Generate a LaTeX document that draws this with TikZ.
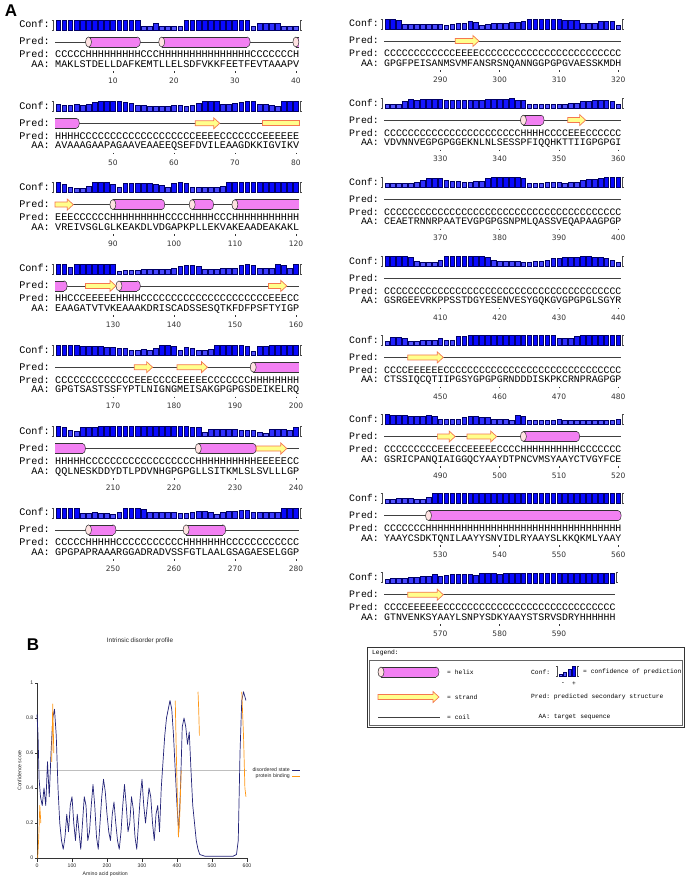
\documentclass[tikz,border=0pt]{standalone}
\usepackage{fontspec}
\setmainfont{Liberation Sans}
\setmonofont{Liberation Mono}
\newfontfamily\numfont{DejaVu Sans}
\usetikzlibrary{positioning}

\definecolor{helixpink}{RGB}{242,128,242}
\definecolor{helixcap}{RGB}{255,226,226}
\definecolor{strandfill}{RGB}{255,255,140}
\definecolor{strandedge}{RGB}{245,120,80}
\definecolor{confblue}{RGB}{0,0,255}
\definecolor{disnavy}{RGB}{35,35,120}
\definecolor{bindorange}{RGB}{255,150,20}

\tikzset{
  seqtxt/.style={anchor=base west, inner sep=0pt, font=\fontsize{\fs pt}{\fs pt}\selectfont\ttfamily},
  seqlab/.style={anchor=base east, inner sep=0pt, font=\fontsize{\fs pt}{\fs pt}\selectfont\ttfamily},
  numlab/.style={inner sep=0pt, font=\fontsize{7.5}{8}\selectfont\numfont, text=black!80},
  confbar/.style={draw=blue!40!black, line width=0.35pt},
  bracket/.style={draw=black!70, line width=0.5pt},
  tickmark/.style={draw=black!80, line width=0.8pt},
  coil/.style={draw=black!75, line width=0.6pt},
  helixbody/.style={fill=helixpink},
  helixline/.style={draw=black!80, line width=0.5pt},
  helixend/.style={fill=helixpink, draw=black!80, line width=0.5pt},
  helixtop/.style={fill=helixcap, draw=black!80, line width=0.5pt},
  strand/.style={fill=strandfill, draw=strandedge, line width=0.7pt},
  panel/.style={inner sep=0pt, font=\fontsize{17}{17}\selectfont\bfseries},
  legtxt/.style={inner sep=0pt, anchor=west, font=\fontsize{6.3}{7}\selectfont\ttfamily},
  plottxt/.style={inner sep=0pt, font=\fontsize{5.2}{6}\selectfont, text=black!85},
  disorder/.style={draw=disnavy, line width=0.7pt, line join=round},
  binding/.style={draw=bindorange, line width=0.7pt, line join=round}
}

% confidence bars, one per digit
\newcount\confi
\newcommand\confbar[1]{%
  \global\advance\confi by 1
  \pgfmathsetmacro\cbx{\bx+(\the\confi-1)*\cw}%
  \pgfmathtruncatemacro\cbs{52+5*#1}%
  \filldraw[confbar, fill=confblue!\cbs!white] (\cbx+0.7,\by+5) rectangle (\cbx+\cw-0.7,\by+4-#1);%
}
\def\confloop#1{\ifx#1\relax\else\confbar{#1}\expandafter\confloop\fi}

% one block of 40 residues: id, x0, y, char width, offset, conf, pred, aa
\newcommand{\psiblock}[8]{%
  \def\bx{#2}\def\by{#3}\def\cw{#4}%
  \pgfmathsetmacro\fs{#4/0.6}%
  \pgfmathsetmacro\py{#3+17}%
  \global\confi=0 \confloop#6\relax
  \edef\nres{\the\confi}%
  \pgfmathsetmacro\blkend{#2+\nres*#4}%
  \node[seqlab] (conf#1) at (#2-5,#3+3) {Conf:};
  \draw[bracket] (#2-3.5,#3-5) -- (#2-2,#3-5) -- (#2-2,#3+5) -- (#2-3.5,#3+5) (#2-2,#3) -- (#2-1,#3);
  \draw[bracket] (\blkend+2.5,#3-5) -- (\blkend+1,#3-5) -- (\blkend+1,#3+5) -- (\blkend+2.5,#3+5);
  \node[seqlab] (predlab#1) at (#2-5,\py+3) {Pred:};
  \draw[coil] (#2,\py) -- (\blkend,\py);
  \node[seqlab] (ptxtlab#1) at (#2-5,#3+33) {Pred:};
  \node[seqtxt] (ptxt#1) at (#2,#3+33) {#7};
  \node[seqlab] (aalab#1) at (#2-5,#3+42.5) {AA:};
  \node[seqtxt] (aa#1) at (#2,#3+42.5) {#8};
  \foreach \j in {10,20,30,40}{%
    \ifnum\j>\nres\relax\else
      \pgfmathtruncatemacro\numval{#5+\j}%
      \draw[tickmark] (#2+\j*#4-#4/2,#3+46.5) -- ++(0,1.5);
      \node[numlab] (num#1-\j) at (#2+\j*#4-#4/2,#3+56) {\numval};
    \fi}%
}

% helix from residue a to b, left cap, rounded right end
\newcommand{\hlx}[4]{%
  \pgfmathsetmacro\hxa{\bx+(#1-1)*\cw}%
  \pgfmathsetmacro\hxb{\bx+#2*\cw}%
  \pgfmathsetmacro\hxl{\hxa+#3*3}%
  \pgfmathsetmacro\hxr{\hxb-#4*3}%
  \ifnum#4=1 \filldraw[helixend] (\hxr,\py) ellipse [x radius=3, y radius=5]; \fi
  \fill[helixbody] (\hxl,\py-5) rectangle (\hxr,\py+5);
  \draw[helixline] (\hxl,\py-5) -- (\hxr,\py-5) (\hxl,\py+5) -- (\hxr,\py+5);
  \ifnum#3=1 \filldraw[helixtop] (\hxl,\py) ellipse [x radius=3, y radius=5]; \fi
}
% strand from residue a to b, with or without head
\newcommand{\strd}[3]{%
  \pgfmathsetmacro\sta{\bx+(#1-1)*\cw}%
  \pgfmathsetmacro\stb{\bx+#2*\cw}%
  \ifnum#3=1
    \filldraw[strand] (\sta,\py-2.5) -- (\stb-6,\py-2.5) -- (\stb-6,\py-5.5) -- (\stb,\py) -- (\stb-6,\py+5.5) -- (\stb-6,\py+2.5) -- (\sta,\py+2.5) -- cycle;
  \else
    \filldraw[strand] (\sta,\py-2.5) rectangle (\stb,\py+2.5);
  \fi
}

\begin{document}
\begin{tikzpicture}[x=1pt, y=-1pt]
  \useasboundingbox (0,0) rectangle (685,877);
  \node[panel] (panelA) at (11,11) {A};

  % left column
  \psiblock{1}{55}{25}{6.1}{0}{9999999999999933633339999999999936666333}{CCCCCHHHHHHHHHCCCHHHHHHHHHHHHHHHCCCCCCCH}{MAKLSTDELLDAFKEMTLLELSDFVKKFEETFEVTAAAPV}
  \hlx{6}{14}{1}{1} \hlx{18}{32}{1}{1} \hlx{40}{40}{1}{0}
  \psiblock{2}{55}{106.3}{6.1}{40}{6556568999987554444554579996678996654999}{HHHHCCCCCCCCCCCCCCCCCCCEEEECCCCCCCEEEEEE}{AVAAAGAAPAGAAVEAAEEQSEFDVILEAAGDKKIGVIKV}
  \hlx{1}{4}{0}{1} \strd{24}{27}{1} \strd{35}{40}{0}
  \psiblock{3}{55}{187.6}{6.1}{80}{9743359997488888764898444445999999999999}{EEECCCCCCHHHHHHHHHCCCCHHHHCCCHHHHHHHHHHH}{VREIVSGLGLKEAKDLVDGAPKPLLEKVAKEAADEAKAKL}
  \strd{1}{3}{1} \hlx{10}{18}{1}{1} \hlx{23}{26}{1}{1} \hlx{30}{40}{1}{0}
  \psiblock{4}{55}{268.9}{6.1}{120}{9969999999233344444578874445558985559859}{HHCCCEEEEEHHHHCCCCCCCCCCCCCCCCCCCCCEEECC}{EAAGATVTVKEAAAKDRISCADSSESQTKFDFPSFTYIGP}
  \hlx{1}{2}{0}{1} \strd{6}{10}{1} \hlx{11}{14}{1}{1} \strd{36}{38}{1}
  \psiblock{5}{55}{350.2}{6.1}{160}{9999888877664454699847644599999838899999}{CCCCCCCCCCCCCEEECCCCEEEEECCCCCCCHHHHHHHH}{GPGTSASTSSFYPTLNIGNGMEISAKGPGPGSDEIKELRQ}
  \strd{14}{16}{1} \strd{21}{25}{1} \hlx{33}{40}{1}{0}
  \psiblock{6}{55}{431.5}{6.1}{200}{9854888999999999999999883666665553266658}{HHHHHCCCCCCCCCCCCCCCCCCHHHHHHHHHHEEEEECC}{QQLNESKDDYDTLPDVNHGPGPGLLSITKMLSLSVLLLGP}
  \hlx{1}{5}{0}{1} \hlx{24}{33}{1}{1} \strd{34}{38}{1}
  \psiblock{7}{55}{512.8}{6.1}{240}{9999445443599985555544566535667755555999}{CCCCCHHHHHCCCCCCCCCCCHHHHHHHCCCCCCCCCCCC}{GPGPAPRAAARGGADRADVSSFGTLAALGSAGAESELGGP}
  \hlx{6}{10}{1}{1} \hlx{22}{28}{1}{1}

  % right column
  \psiblock{8}{384}{24}{5.93}{280}{9984444444345576345556679999998885557773}{CCCCCCCCCCCCEEEECCCCCCCCCCCCCCCCCCCCCCCC}{GPGFPEISANMSVMFANSRSNQANNGGPGPGVAESSKMDH}
  \strd{13}{16}{1}
  \psiblock{9}{384}{103.1}{5.93}{320}{3336878888777777788889773333333446677763}{CCCCCCCCCCCCCCCCCCCCCCCHHHHCCCCEEECCCCCC}{VDVNNVEGPGPGGEKNLNLSESSPFIQQHKTTIIGPGPGI}
  \hlx{24}{27}{1}{1} \strd{32}{34}{1}
  \psiblock{10}{384}{182.2}{5.93}{360}{3333346888655445589999983334443446778999}{CCCCCCCCCCCCCCCCCCCCCCCCCCCCCCCCCCCCCCCC}{CEAETRNNRPAATEVGPGPGSNPMLQASSVEQAPAAGPGP}
  \psiblock{11}{384}{261.3}{5.93}{400}{9999843335999999985444433445778889988753}{CCCCCCCCCCCCCCCCCCCCCCCCCCCCCCCCCCCCCCCC}{GSRGEEVRKPPSSTDGYESENVESYGQKGVGPGPGLSGYR}
  \psiblock{12}{384}{340.4}{5.93}{440}{3776334446448899999999999999966689999999}{CCCCEEEEEECCCCCCCCCCCCCCCCCCCCCCCCCCCCCC}{CTSSIQCQTIIPGSYGPGPGRNDDDISKPKCRNPRAGPGP}
  \strd{5}{10}{1}
  \psiblock{13}{384}{419.5}{5.93}{480}{9888777874444677664443873333343333333334}{CCCCCCCCCEEECCEEEEECCCCHHHHHHHHHHCCCCCCC}{GSRICPANQIAIGGQCYAAYDTPNCVMSYAAYCTVGYFCE}
  \strd{10}{12}{1} \strd{15}{19}{1} \hlx{24}{33}{1}{1}
  \psiblock{14}{384}{498.6}{5.93}{520}{3344433599999999999999999999999999999999}{CCCCCCCHHHHHHHHHHHHHHHHHHHHHHHHHHHHHHHHH}{YAAYCSDKTQNILAAYYSNVIDLRYAAYSLKKQKMLYAAY}
  \hlx{8}{40}{1}{1}
  \psiblock{15}{384}{577.7}{5.93}{560}{344455668678888799989999999999999999999}{CCCCEEEEEECCCCCCCCCCCCCCCCCCCCCCCCCCCCC}{GTNVENKSYAAYLSNPYSDKYAAYSTSRVSDRYHHHHHH}
  \strd{5}{10}{1}

  % legend box
  \draw[black!80, line width=0.6pt] (367,647) rectangle (684,727);
  \node[legtxt] (legend) at (372,653) {Legend:};
  \draw[black!60, line width=0.5pt] (369,660) rectangle (682,725);
  \def\bx{378}\def\cw{6.1}\def\py{672}
  \hlx{1}{10}{1}{1}
  \node[legtxt] (lhelix) at (447,672) {= helix};
  \def\py{697}
  \strd{1}{10}{1}
  \node[legtxt] (lstrand) at (447,697) {= strand};
  \draw[coil] (378,717) -- (440,717);
  \node[legtxt] (lcoil) at (447,717) {= coil};
  \node[legtxt] (lconf) at (531,672) {Conf:};
  \def\bx{558}\def\by{671}\def\cw{4.5}
  \global\confi=0 \confloop1369\relax
  \draw[bracket] (556,666) -- (557,666) -- (557,676) -- (556,676);
  \draw[bracket] (578.5,666) -- (577,666) -- (577,676) -- (578.5,676);
  \node[legtxt] (lconftxt) at (583,672) {= confidence of prediction};
  \node[legtxt] (lminus) at (561,684) {-};
  \node[legtxt] (lplus) at (572,684) {+};
  \node[legtxt] (lpred) at (531,697) {Pred: predicted secondary structure};
  \node[legtxt] (laa) at (538.5,717) {AA: target sequence};

  % panel B
  \node[panel] (panelB) at (33,645) {B};
  \node[plottxt, font=\fontsize{6.4}{7}\selectfont] (ptitle) at (140,641) {Intrinsic disorder profile};
  \begin{scope}[shift={(37,858)}, x=0.35pt, y=175pt]
    \draw[black!25, line width=0.3pt] (0,0.5) -- (600,0.5);
    \draw[black!80, line width=0.5pt] (0,1) -- (0,0) -- (600,0);
    \foreach \v in {0,0.2,0.4,0.6,0.8,1}{
      \draw[black!80, line width=0.4pt] (0,\v) -- (-7,\v);
      \node[plottxt, anchor=east] (yt\v) at (-10,\v) {\v};
    }
    \foreach \p in {0,100,200,300,400,500,600}{
      \draw[black!80, line width=0.4pt] (\p,0) -- (\p,-0.02);
      \node[plottxt] (xt\p) at (\p,-0.045) {\p};
    }
    \node[plottxt, rotate=90] (ylab) at (-50,0.5) {Confidence score};
    \node[plottxt] (xlab) at (195,-0.09) {Amino acid position};
    \draw[disorder] plot coordinates {(0,0.82) (3,0.7) (6,0.45) (10,0.35) (15,0.3) (20,0.4) (25,0.3) (30,0.55) (35,0.35) (40,0.6) (45,0.8) (50,0.85) (55,0.7) (60,0.4) (65,0.2) (70,0.1) (75,0.05) (80,0.12) (85,0.25) (90,0.15) (95,0.3) (100,0.35) (105,0.2) (110,0.1) (115,0.25) (120,0.15) (125,0.05) (130,0.2) (135,0.35) (140,0.3) (145,0.1) (150,0.15) (155,0.3) (160,0.42) (165,0.3) (170,0.12) (175,0.05) (180,0.2) (185,0.35) (190,0.45) (195,0.38) (200,0.25) (205,0.15) (210,0.1) (215,0.25) (220,0.32) (225,0.2) (230,0.1) (235,0.05) (240,0.15) (245,0.3) (250,0.42) (255,0.3) (260,0.15) (265,0.2) (270,0.35) (275,0.28) (280,0.12) (285,0.05) (290,0.2) (295,0.35) (300,0.45) (305,0.3) (310,0.2) (315,0.3) (320,0.4) (325,0.35) (330,0.2) (335,0.1) (340,0.25) (345,0.3) (350,0.15) (355,0.4) (360,0.55) (365,0.7) (370,0.8) (375,0.85) (380,0.9) (385,0.85) (390,0.7) (395,0.5) (400,0.3) (405,0.15) (410,0.4) (415,0.75) (420,0.8) (425,0.75) (430,0.65) (435,0.72) (440,0.5) (445,0.3) (450,0.2) (455,0.1) (460,0.05) (465,0.02) (480,0.01) (520,0.01) (560,0.01) (570,0.02) (575,0.1) (580,0.6) (585,0.9) (590,0.95) (597,0.9)};
    \draw[binding] plot coordinates {(2,0.0) (5,0.12) (8,0.3) (11,0.2)};
    \draw[binding] plot coordinates {(42,0.55) (45,0.88) (48,0.6)};
    \draw[binding] plot coordinates {(395,0.9) (398,0.6) (401,0.35) (404,0.12) (408,0.25) (412,0.5)};
    \draw[binding] plot coordinates {(460,0.95) (462,0.85) (464,0.7)};
    \draw[binding] plot coordinates {(585,0.95) (590,0.7) (594,0.4) (597,0.35)};
  \end{scope}
  \node[plottxt, anchor=east] (ldis) at (290,770) {disordered state};
  \draw[disorder] (292,770) -- (300,770);
  \node[plottxt, anchor=east] (lbind) at (290,776) {protein binding};
  \draw[binding] (292,776) -- (300,776);
\end{tikzpicture}
\end{document}
